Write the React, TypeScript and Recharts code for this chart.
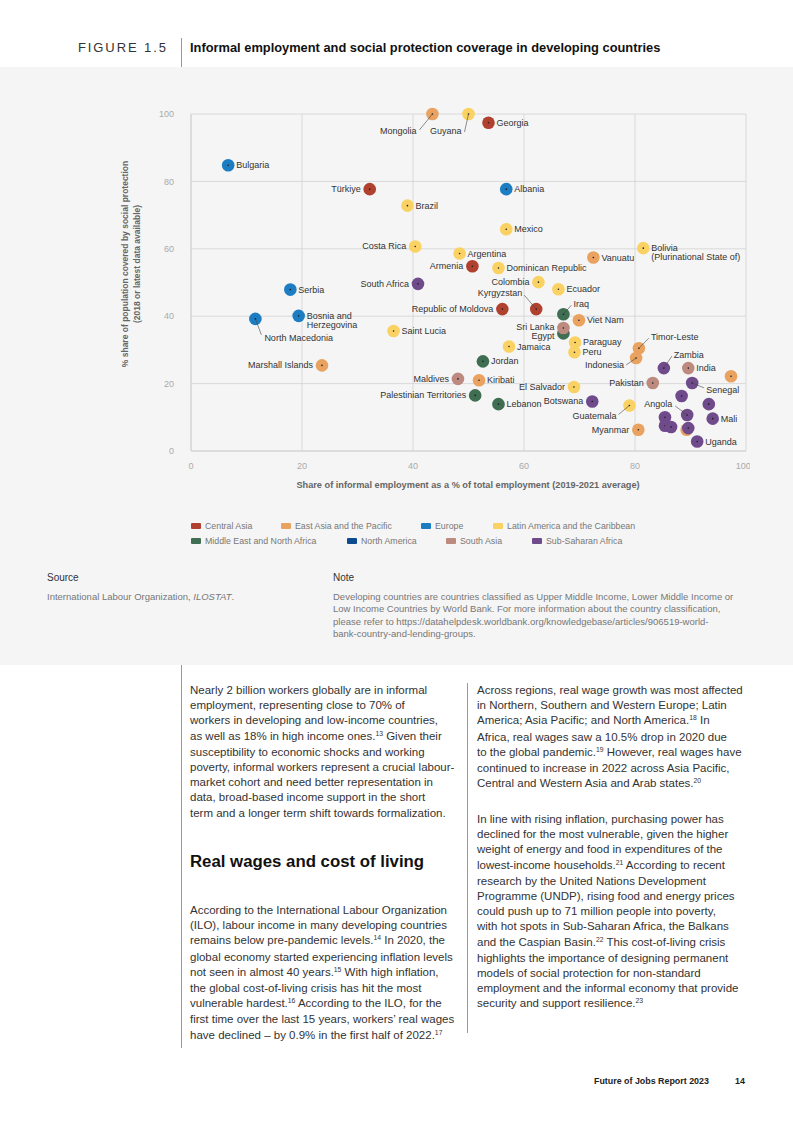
import React from 'react';
import { ScatterChart, Scatter, XAxis, YAxis, CartesianGrid } from 'recharts';

type Pt = { name: string; x: number; y: number };

// x = informal employment share, y = social protection coverage
const centralAsia: Pt[] = [
  { name: 'Georgia', x: 53.6, y: 97.4 },
  { name: 'Türkiye', x: 32.2, y: 77.7 },
  { name: 'Armenia', x: 50.7, y: 54.8 },
  { name: 'Republic of Moldova', x: 56.1, y: 42.1 },
  { name: 'Kyrgyzstan', x: 62.2, y: 42.1 },
];

const eastAsiaPacific: Pt[] = [
  { name: 'Mongolia', x: 43.5, y: 100 },
  { name: 'Vanuatu', x: 72.5, y: 57.4 },
  { name: 'Viet Nam', x: 69.9, y: 38.8 },
  { name: 'Marshall Islands', x: 23.6, y: 25.4 },
  { name: 'Kiribati', x: 51.9, y: 21.0 },
  { name: 'Timor-Leste', x: 80.7, y: 30.5 },
  { name: 'Indonesia', x: 80.2, y: 27.6 },
  { name: 'Myanmar', x: 80.6, y: 6.3 },
  { name: '', x: 97.3, y: 22.2 },
  { name: '', x: 89.3, y: 6.3 },
];

const europe: Pt[] = [
  { name: 'Bulgaria', x: 6.7, y: 84.8 },
  { name: 'Albania', x: 56.8, y: 77.7 },
  { name: 'Serbia', x: 17.9, y: 47.9 },
  { name: 'Bosnia and Herzegovina', x: 19.4, y: 40.1 },
  { name: 'North Macedonia', x: 11.6, y: 39.2 },
];

const latinAmerica: Pt[] = [
  { name: 'Guyana', x: 50.0, y: 100 },
  { name: 'Brazil', x: 39.0, y: 72.8 },
  { name: 'Costa Rica', x: 40.4, y: 60.7 },
  { name: 'Mexico', x: 56.8, y: 65.8 },
  { name: 'Argentina', x: 48.4, y: 58.6 },
  { name: 'Bolivia', x: 81.5, y: 60.2 },
  { name: 'Dominican Republic', x: 55.4, y: 54.3 },
  { name: 'Colombia', x: 62.6, y: 50.1 },
  { name: 'Ecuador', x: 66.2, y: 48.0 },
  { name: 'Saint Lucia', x: 36.5, y: 35.6 },
  { name: 'Jamaica', x: 57.3, y: 31.0 },
  { name: 'Paraguay', x: 69.2, y: 32.2 },
  { name: 'Peru', x: 69.1, y: 29.3 },
  { name: 'El Salvador', x: 69.0, y: 19.0 },
  { name: 'Guatemala', x: 79.0, y: 13.5 },
];

const middleEast: Pt[] = [
  { name: 'Iraq', x: 67.1, y: 40.6 },
  { name: 'Egypt', x: 67.1, y: 34.9 },
  { name: 'Jordan', x: 52.6, y: 26.6 },
  { name: 'Palestinian Territories', x: 51.2, y: 16.5 },
  { name: 'Lebanon', x: 55.4, y: 13.9 },
];

const northAmerica: Pt[] = [];

const southAsia: Pt[] = [
  { name: 'Sri Lanka', x: 67.1, y: 36.5 },
  { name: 'Maldives', x: 48.1, y: 21.4 },
  { name: 'India', x: 89.6, y: 24.6 },
  { name: 'Pakistan', x: 83.2, y: 20.2 },
];

const subSaharan: Pt[] = [
  { name: 'South Africa', x: 40.9, y: 49.6 },
  { name: 'Zambia', x: 85.2, y: 24.6 },
  { name: 'Senegal', x: 90.3, y: 20.2 },
  { name: '', x: 88.4, y: 16.3 },
  { name: '', x: 93.3, y: 13.9 },
  { name: 'Botswana', x: 72.3, y: 14.7 },
  { name: 'Angola', x: 89.4, y: 10.7 },
  { name: 'Mali', x: 94.0, y: 9.6 },
  { name: '', x: 85.4, y: 10.0 },
  { name: '', x: 85.4, y: 7.5 },
  { name: '', x: 86.5, y: 7.1 },
  { name: '', x: 89.6, y: 6.8 },
  { name: 'Uganda', x: 91.2, y: 2.8 },
];

const ticks = [0, 20, 40, 60, 80, 100];

const regions = [
  { label: 'Central Asia', color: '#b1412f', data: centralAsia },
  { label: 'East Asia and the Pacific', color: '#e9a25f', data: eastAsiaPacific },
  { label: 'Europe', color: '#1d7dc3', data: europe },
  { label: 'Latin America and the Caribbean', color: '#fad163', data: latinAmerica },
  { label: 'Middle East and North Africa', color: '#3f6e53', data: middleEast },
  { label: 'North America', color: '#0d4b8f', data: northAmerica },
  { label: 'South Asia', color: '#bd8a80', data: southAsia },
  { label: 'Sub-Saharan Africa', color: '#6f4b8b', data: subSaharan },
];

// where each label sits relative to its dot
type Spot = { dx?: number; dy?: number; end?: boolean; lead?: [number, number]; lines?: string[] };
const spots: Record<string, Spot> = {
  'Türkiye': { end: true },
  'Costa Rica': { end: true },
  'Armenia': { end: true },
  'South Africa': { end: true },
  'Colombia': { end: true },
  'Republic of Moldova': { end: true },
  'Sri Lanka': { end: true, dy: -1 },
  'Egypt': { end: true, dy: 3 },
  'Pakistan': { end: true },
  'El Salvador': { end: true },
  'Botswana': { end: true },
  'Myanmar': { end: true },
  'Marshall Islands': { end: true },
  'Maldives': { end: true },
  'Palestinian Territories': { end: true },
  'Mongolia': { end: true, dx: -16, dy: 17, lead: [-13, 16] },
  'Guyana': { end: true, dx: -7, dy: 17, lead: [-4, 18] },
  'Kyrgyzstan': { end: true, dx: -14, dy: -16, lead: [-12, -14] },
  'Iraq': { dx: 10, dy: -10, lead: [8, -9] },
  'Timor-Leste': { dx: 12, dy: -11, lead: [10, -10] },
  'Indonesia': { end: true, dx: -12, dy: 7, lead: [-10, 7] },
  'Zambia': { dx: 10, dy: -13, lead: [8, -12] },
  'Senegal': { dx: 14, dy: 7, lead: [12, 5] },
  'Guatemala': { end: true, dx: -13, dy: 10, lead: [-11, 9] },
  'Angola': { end: true, dx: -15, dy: -11, lead: [-12, -9] },
  'North Macedonia': { dx: 9, dy: 19, lead: [6, 16] },
  'Bolivia': { lines: ['Bolivia', '(Plurinational State of)'] },
  'Bosnia and Herzegovina': { lines: ['Bosnia and', 'Herzegovina'] },
};

const font = '"Liberation Sans", Arial, Helvetica, sans-serif';

const makeDot = (color: string) => (props: any) => {
  const { cx, cy, payload } = props;
  if (cx == null || cy == null) return <g />;
  const name: string = payload.name;
  const s = spots[name] || {};
  const end = !!s.end;
  const dx = s.dx ?? (end ? -9 : 8);
  const dy = s.dy ?? 0;
  const lines = s.lines || [name];
  return (
    <g>
      <circle cx={cx} cy={cy} r={6.3} fill={color} />
      <circle cx={cx} cy={cy} r={0.8} fill="#1a1a1a" />
      {s.lead && (
        <line x1={cx} y1={cy} x2={cx + s.lead[0]} y2={cy + s.lead[1]} stroke="#444" strokeWidth={0.6} />
      )}
      {name &&
        lines.map((ln, i) => (
          <text
            key={i}
            x={cx + dx}
            y={cy + dy + i * 9.3}
            dominantBaseline="central"
            textAnchor={end ? 'end' : 'start'}
            fontSize={9}
            fontFamily={font}
            fill="#333"
          >
            {ln}
          </text>
        ))}
    </g>
  );
};

const legendRow1 = [
  { i: 0, x: 191 },
  { i: 1, x: 281 },
  { i: 2, x: 421 },
  { i: 3, x: 493 },
];
const legendRow2 = [
  { i: 4, x: 191 },
  { i: 5, x: 347 },
  { i: 6, x: 446 },
  { i: 7, x: 532 },
];

const Sup = ({ n }: { n: string }) => (
  <span style={{ fontSize: 6.8, position: 'relative', top: -4 }}>{n}</span>
);

const Block = ({ left, top, lines }: { left: number; top: number; lines: React.ReactNode[] }) => (
  <div style={{ position: 'absolute', left, top, fontSize: 11.5, lineHeight: '15.2px', color: '#333', whiteSpace: 'nowrap' }}>
    {lines.map((l, i) => (
      <div key={i}>{l}</div>
    ))}
  </div>
);

export default function App() {
  return (
    <div style={{ position: 'absolute', left: 0, top: 0, width: 793, height: 1122, background: '#fff', fontFamily: font, overflow: 'hidden' }}>
      {/* header */}
      <div style={{ position: 'absolute', left: 78, top: 40, fontSize: 13, letterSpacing: 1.9, color: '#333' }}>FIGURE 1.5</div>
      <div style={{ position: 'absolute', left: 181, top: 38, width: 1, height: 30, background: '#999' }} />
      <div style={{ position: 'absolute', left: 190, top: 40, fontSize: 12.85, fontWeight: 'bold', color: '#111' }}>
        Informal employment and social protection coverage in developing countries
      </div>

      {/* grey panel */}
      <div style={{ position: 'absolute', left: 0, top: 67, width: 793, height: 598, background: '#f5f5f5' }} />

      <div style={{ position: 'absolute', left: 150, top: 100 }}>
        <ScatterChart width={600} height={380} margin={{ top: 14, right: 4, bottom: 9, left: 0 }}>
          <CartesianGrid stroke="#d2d2d2" strokeWidth={0.8} />
          <XAxis
            type="number"
            dataKey="x"
            domain={[0, 100]}
            ticks={ticks}
            height={20}
            tickSize={0}
            tickMargin={12}
            axisLine={{ stroke: '#d2d2d2' }}
            tick={{ fontSize: 9, fill: '#aaa', fontFamily: font }}
          />
          <YAxis
            type="number"
            dataKey="y"
            domain={[0, 100]}
            ticks={ticks}
            width={41}
            tickSize={0}
            tickMargin={17}
            axisLine={{ stroke: '#d2d2d2' }}
            tick={{ fontSize: 9, fill: '#aaa', fontFamily: font }}
          />
          {regions.map((r) => (
            <Scatter key={r.label} name={r.label} data={r.data} fill={r.color} shape={makeDot(r.color)} isAnimationActive={false} />
          ))}
        </ScatterChart>
      </div>

      {/* axis titles */}
      <div style={{ position: 'absolute', left: 190, width: 556, top: 480, textAlign: 'center', fontSize: 9.2, fontWeight: 'bold', color: '#666' }}>
        Share of informal employment as a % of total employment (2019-2021 average)
      </div>
      <div
        style={{
          position: 'absolute',
          left: 131 - 150,
          top: 264 - 11,
          width: 300,
          textAlign: 'center',
          fontSize: 8.5,
          lineHeight: '11.5px',
          fontWeight: 'bold',
          color: '#666',
          transform: 'rotate(-90deg)',
          transformOrigin: '150px 11px',
        }}
      >
        <div>% share of population covered by social protection</div>
        <div>(2018 or latest data available)</div>
      </div>

      {/* legend */}
      {[legendRow1, legendRow2].map((row, ri) =>
        row.map(({ i, x }) => (
          <div key={i} style={{ position: 'absolute', left: x, top: 520 + ri * 15.5, height: 11, display: 'flex', alignItems: 'center', fontSize: 8.8, color: '#777' }}>
            <span style={{ display: 'inline-block', width: 10, height: 6, background: regions[i].color, marginRight: 4, borderRadius: 1 }} />
            {regions[i].label}
          </div>
        ))
      )}

      {/* source and note */}
      <div style={{ position: 'absolute', left: 47, top: 572, fontSize: 10, color: '#333' }}>Source</div>
      <div style={{ position: 'absolute', left: 47, top: 591, fontSize: 9.5, color: '#777' }}>
        International Labour Organization, <i>ILOSTAT</i>.
      </div>
      <div style={{ position: 'absolute', left: 333, top: 572, fontSize: 10, color: '#333' }}>Note</div>
      <div style={{ position: 'absolute', left: 333, top: 591, fontSize: 9.5, lineHeight: '12.4px', color: '#777', whiteSpace: 'nowrap' }}>
        <div>Developing countries are countries classified as Upper Middle Income, Lower Middle Income or</div>
        <div>Low Income Countries by World Bank. For more information about the country classification,</div>
        <div>please refer to https://datahelpdesk.worldbank.org/knowledgebase/articles/906519-world-</div>
        <div>bank-country-and-lending-groups.</div>
      </div>

      {/* column rules */}
      <div style={{ position: 'absolute', left: 181, top: 665, width: 1, height: 383, background: '#999' }} />
      <div style={{ position: 'absolute', left: 467, top: 683, width: 1, height: 350, background: '#999' }} />

      <Block
        left={190}
        top={683}
        lines={[
          'Nearly 2 billion workers globally are in informal',
          'employment, representing close to 70% of',
          'workers in developing and low-income countries,',
          <>as well as 18% in high income ones.<Sup n="13" /> Given their</>,
          'susceptibility to economic shocks and working',
          'poverty, informal workers represent a crucial labour-',
          'market cohort and need better representation in',
          'data, broad-based income support in the short',
          'term and a longer term shift towards formalization.',
        ]}
      />
      <div style={{ position: 'absolute', left: 190, top: 852, fontSize: 16.8, fontWeight: 'bold', color: '#111' }}>
        Real wages and cost of living
      </div>
      <Block
        left={190}
        top={903}
        lines={[
          'According to the International Labour Organization',
          '(ILO), labour income in many developing countries',
          <>remains below pre-pandemic levels.<Sup n="14" /> In 2020, the</>,
          'global economy started experiencing inflation levels',
          <>not seen in almost 40 years.<Sup n="15" /> With high inflation,</>,
          'the global cost-of-living crisis has hit the most',
          <>vulnerable hardest.<Sup n="16" /> According to the ILO, for the</>,
          'first time over the last 15 years, workers’ real wages',
          <>have declined – by 0.9% in the first half of 2022.<Sup n="17" /></>,
        ]}
      />
      <Block
        left={477}
        top={683}
        lines={[
          'Across regions, real wage growth was most affected',
          'in Northern, Southern and Western Europe; Latin',
          <>America; Asia Pacific; and North America.<Sup n="18" /> In</>,
          'Africa, real wages saw a 10.5% drop in 2020 due',
          <>to the global pandemic.<Sup n="19" /> However, real wages have</>,
          'continued to increase in 2022 across Asia Pacific,',
          <>Central and Western Asia and Arab states.<Sup n="20" /></>,
        ]}
      />
      <Block
        left={477}
        top={812}
        lines={[
          'In line with rising inflation, purchasing power has',
          'declined for the most vulnerable, given the higher',
          'weight of energy and food in expenditures of the',
          <>lowest-income households.<Sup n="21" /> According to recent</>,
          'research by the United Nations Development',
          'Programme (UNDP), rising food and energy prices',
          'could push up to 71 million people into poverty,',
          'with hot spots in Sub-Saharan Africa, the Balkans',
          <>and the Caspian Basin.<Sup n="22" /> This cost-of-living crisis</>,
          'highlights the importance of designing permanent',
          'models of social protection for non-standard',
          'employment and the informal economy that provide',
          <>security and support resilience.<Sup n="23" /></>,
        ]}
      />

      {/* footer */}
      <div style={{ position: 'absolute', left: 594, top: 1076, fontSize: 8.9, fontWeight: 'bold', color: '#222' }}>
        Future of Jobs Report 2023
      </div>
      <div style={{ position: 'absolute', left: 735, top: 1076, fontSize: 8.9, fontWeight: 'bold', color: '#222' }}>14</div>
    </div>
  );
}
